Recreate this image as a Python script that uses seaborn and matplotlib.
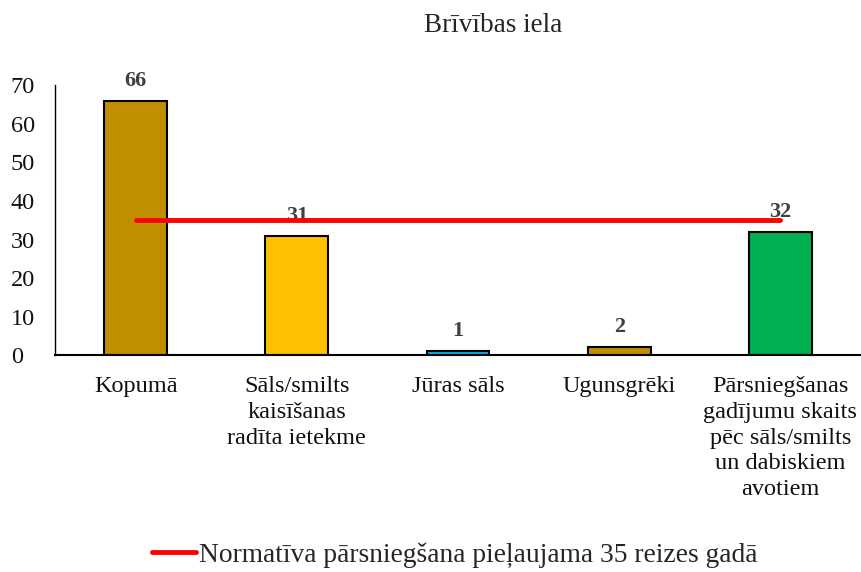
import matplotlib
matplotlib.use("Agg")
import matplotlib.pyplot as plt
import seaborn as sns
import pandas as pd
from matplotlib.lines import Line2D

title = "Brīvības iela"
categories = ["Kopumā",
              "Sāls/smilts\nkaisīšanas\nradīta ietekme",
              "Jūras sāls",
              "Ugunsgrēki",
              "Pārsniegšanas\ngadījumu skaits\npēc sāls/smilts\nun dabiskiem\navotiem"]
values = [66, 31, 1, 2, 32]
bar_colors = ["#BF8F00", "#FFC000", "#00B0F0", "#BF8F00", "#00B050"]
threshold = [35, 35, 35, 35, 35]
legend_label = "Normatīva pārsniegšana pieļaujama 35 reizes gadā"
yticks = [0, 10, 20, 30, 40, 50, 60, 70]

sns.set_theme(style="white")
plt.rcParams['font.family'] = ['Liberation Serif', 'DejaVu Serif']

df = pd.DataFrame({"cat": categories, "val": values})

fig = plt.figure(figsize=(8.61, 5.72), dpi=100)
ax = fig.add_axes([0.064, 0.379, 0.936, 0.472])

sns.barplot(data=df, x="cat", y="val", hue="cat", palette=bar_colors,
            legend=False, width=0.39, edgecolor="black", linewidth=1.5,
            ax=ax, saturation=1)

for i, v in enumerate(values):
    ax.text(i, v + 2.6, str(v), ha="center", va="bottom", fontsize=16,
            fontweight="bold", color="#404040", zorder=1)

ax.plot(range(len(categories)), threshold, color="#FF0000", lw=3.5,
        solid_capstyle="round", zorder=5)

ax.set_xlim(-0.5, len(categories) - 0.5)
ax.set_ylim(0, 70)
ax.set_yticks(yticks)
ax.set_xlabel("")
ax.set_ylabel("")
ax.tick_params(axis="y", labelsize=17.5, length=0, pad=32, colors="#111111")
ax.tick_params(axis="x", labelsize=17.5, length=0, pad=15, colors="#111111")
for lab in ax.get_yticklabels():
    lab.set_horizontalalignment("left")
for lab in ax.get_xticklabels():
    lab.set_linespacing(1.3)
for s in ["top", "right"]:
    ax.spines[s].set_visible(False)
ax.spines["left"].set_color("black")
ax.spines["left"].set_linewidth(1)
ax.spines["bottom"].set_color("black")
ax.spines["bottom"].set_linewidth(1.5)

fig.text(493 / 861, 1 - 26 / 572, title, ha="center", va="center", fontsize=19.5)

handle = Line2D([0], [0], color="#FF0000", lw=3.5)
fig.legend([handle], [legend_label], loc="center", bbox_to_anchor=(455 / 861, 1 - 555 / 572),
           frameon=False, fontsize=19.8, handlelength=1.6, handletextpad=0.1)

fig.savefig("out.png", dpi=100)
